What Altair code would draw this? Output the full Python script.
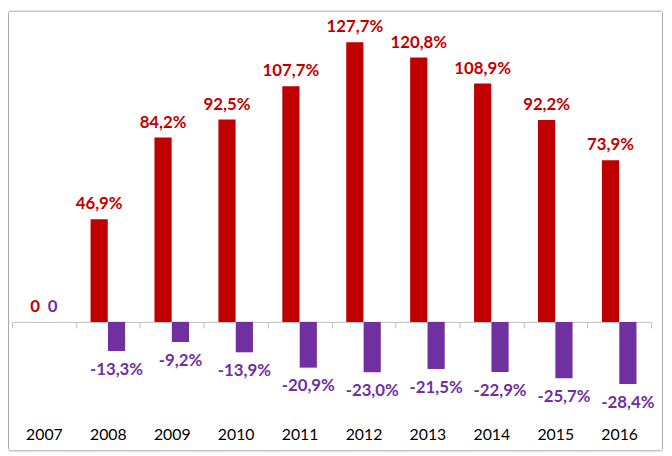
import altair as alt
import pandas as pd

years = ["2007", "2008", "2009", "2010", "2011", "2012", "2013", "2014", "2015", "2016"]
red_values = [0, 46.9, 84.2, 92.5, 107.7, 127.7, 120.8, 108.9, 92.2, 73.9]
purple_values = [0, -13.3, -9.2, -13.9, -20.9, -23.0, -21.5, -22.9, -25.7, -28.4]
series_names = ["A", "B"]
series_colors = ["#C00000", "#7030A0"]


def fmt(v):
    if v == 0:
        return "0"
    return f"{v:.1f}".replace(".", ",") + "%"


rows = []
for y, r, p in zip(years, red_values, purple_values):
    rows.append({"year": y, "series": series_names[0], "value": r, "label": fmt(r)})
    rows.append({"year": y, "series": series_names[1], "value": p, "label": fmt(p)})
df = pd.DataFrame(rows)

W, H = 647, 300
x_enc = alt.X(
    "year:N",
    sort=years,
    scale=alt.Scale(paddingInner=0, paddingOuter=0),
    axis=alt.Axis(
        title=None,
        labelAngle=0,
        domainColor="#BFBFBF",
        tickColor="#BFBFBF",
        tickBand="extent",
        tickSize=6,
        labelPadding=108,
        labelBaseline="middle",
        labelFont="Lato",
        labelFontSize=16,
        labelColor="#000000",
        domainWidth=1,
    ),
)
xoff = alt.XOffset(
    "series:N",
    sort=series_names,
    scale=alt.Scale(paddingInner=0, paddingOuter=0.84),
)
color_enc = alt.Color(
    "series:N",
    scale=alt.Scale(domain=series_names, range=series_colors),
    legend=None,
)
y_enc = alt.Y(
    "value:Q",
    scale=alt.Scale(domain=[0, 135.4], nice=False, zero=False),
    axis=None,
)

base = alt.Chart(df)

bars = base.mark_bar(size=17.4).encode(
    x=x_enc, xOffset=xoff, y=y_enc, y2=alt.datum(0), color=color_enc
)

text_up = base.transform_filter("datum.value >= 0").mark_text(
    font="Lato", fontSize=17, fontWeight="bold", baseline="alphabetic", dy=-10
).encode(x=x_enc, xOffset=xoff, y=y_enc, text="label:N", color=color_enc)

text_down = base.transform_filter("datum.value < 0").mark_text(
    font="Lato", fontSize=17, fontWeight="bold", baseline="alphabetic", dy=24
).encode(x=x_enc, xOffset=xoff, y=y_enc, text="label:N", color=color_enc)

border = alt.Chart(pd.DataFrame({"k": [0]})).mark_rect(
    fill=None, stroke="#A6A6A6", strokeWidth=1, cornerRadius=2
).encode(
    x=alt.value(-3.5), x2=alt.value(658.5), y=alt.value(-14.5), y2=alt.value(430.5)
)

chart = (
    alt.layer(border, bars, text_up, text_down)
    .properties(
        width=W,
        height=H,
        autosize=alt.AutoSizeParams(type="none"),
        padding={"left": 4, "top": 15, "right": 13, "bottom": 131},
        background="white",
    )
    .configure_view(stroke=None)
)

chart.save("out.html", embed_options={"renderer": "svg", "actions": False})
